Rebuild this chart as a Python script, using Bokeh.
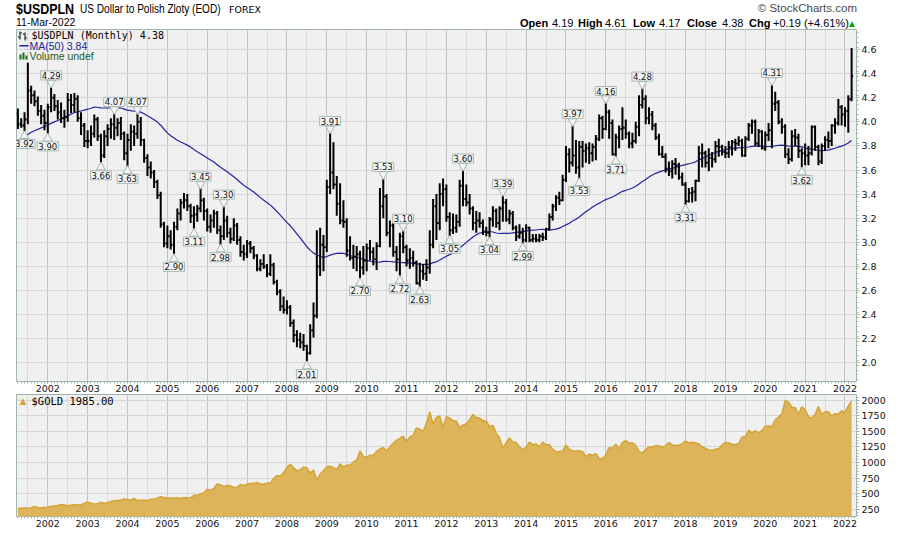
import numpy as np
import pandas as pd
from bokeh.plotting import figure
from bokeh.layouts import column
from bokeh.models import (Range1d, FixedTicker, NumeralTickFormatter, Label,
                          BoxAnnotation, ColumnDataSource, Div)
from bokeh.core.properties import value
from bokeh.embed import file_html
from bokeh.resources import INLINE

# ---------------------------------------------------------------- data
first_month = "2001-04"

usd_open = [
    4.07, 3.98, 3.97, 4.02, 4.26, 4.22, 4.17, 4.09, 4.05,                    # 2001 Apr-Dec
    3.99, 4.12, 4.20, 4.13, 4.08, 4.03, 4.04, 4.18, 4.14, 4.19, 4.03, 3.97,  # 2002
    3.84, 3.84, 3.90, 4.02, 3.88, 3.72, 3.88, 3.94, 3.98, 3.95, 3.99, 3.90,  # 2003
    3.74, 3.85, 3.92, 3.90, 4.00, 3.85, 3.70, 3.62, 3.58, 3.50, 3.39, 3.15,  # 2004
    2.99, 3.05, 2.98, 3.13, 3.24, 3.33, 3.35, 3.30, 3.22, 3.23, 3.28, 3.35,  # 2005
    3.26, 3.13, 3.18, 3.24, 3.10, 3.05, 3.18, 3.08, 3.03, 3.14, 3.02, 2.92,  # 2006
    2.90, 2.99, 2.95, 2.89, 2.78, 2.82, 2.80, 2.74, 2.81, 2.67, 2.59, 2.47,  # 2007
    2.44, 2.46, 2.33, 2.23, 2.19, 2.17, 2.14, 2.08, 2.27, 2.39, 2.80, 2.98,  # 2008
    2.96, 3.46, 3.58, 3.48, 3.32, 3.18, 3.17, 2.93, 2.87, 2.88, 2.90, 2.79,  # 2009
    2.85, 2.95, 2.92, 2.86, 2.97, 3.30, 3.38, 3.08, 3.14, 2.92, 2.86, 3.05,  # 2010
    2.96, 2.85, 2.87, 2.83, 2.66, 2.76, 2.74, 2.79, 2.98, 3.30, 3.16, 3.40,  # 2011
    3.44, 3.21, 3.10, 3.12, 3.17, 3.47, 3.36, 3.33, 3.28, 3.16, 3.18, 3.16,  # 2012
    3.09, 3.08, 3.19, 3.26, 3.16, 3.28, 3.33, 3.19, 3.24, 3.12, 3.05, 3.08,  # 2013
    3.02, 3.12, 3.02, 3.03, 3.02, 3.05, 3.04, 3.11, 3.21, 3.30, 3.37, 3.35,  # 2014
    3.52, 3.73, 3.66, 3.72, 3.62, 3.79, 3.76, 3.78, 3.74, 3.79, 3.86, 4.03,  # 2015
    3.94, 4.08, 3.99, 3.73, 3.87, 3.94, 3.95, 3.90, 3.82, 3.84, 3.96, 4.14,  # 2016
    4.19, 4.03, 4.06, 3.97, 3.87, 3.73, 3.71, 3.61, 3.59, 3.65, 3.64, 3.54,  # 2017
    3.48, 3.34, 3.41, 3.42, 3.51, 3.74, 3.74, 3.66, 3.70, 3.69, 3.80, 3.79,  # 2018
    3.75, 3.74, 3.79, 3.83, 3.82, 3.84, 3.72, 3.86, 3.97, 4.00, 3.82, 3.92,  # 2019
    3.78, 3.89, 3.93, 4.15, 4.16, 4.00, 3.96, 3.73, 3.69, 3.88, 3.87, 3.76,  # 2020
    3.74, 3.72, 3.74, 3.96, 3.79, 3.67, 3.80, 3.85, 3.84, 3.97, 3.99, 4.12,  # 2021
    4.06, 4.09, 4.1873,                                                      # 2022 Jan-Mar
]
usd_high = [
    4.11, 4.03, 4.08, 4.49, 4.30, 4.26, 4.21, 4.14, 4.10,
    4.15, 4.29, 4.23, 4.18, 4.16, 4.10, 4.24, 4.23, 4.24, 4.22, 4.08, 3.99,
    3.93, 3.97, 4.06, 4.04, 3.90, 3.93, 3.98, 4.03, 4.07, 4.03, 4.04, 3.92,
    3.90, 3.98, 3.97, 4.07, 4.04, 3.86, 3.73, 3.67, 3.60, 3.52, 3.42, 3.17,
    3.14, 3.10, 3.17, 3.28, 3.36, 3.41, 3.40, 3.32, 3.30, 3.31, 3.45, 3.37,
    3.28, 3.23, 3.27, 3.26, 3.14, 3.30, 3.22, 3.12, 3.20, 3.16, 3.05, 2.98,
    3.02, 3.01, 2.97, 2.90, 2.86, 2.90, 2.82, 2.90, 2.83, 2.69, 2.61, 2.55,
    2.52, 2.48, 2.36, 2.27, 2.25, 2.24, 2.15, 2.32, 2.50, 3.10, 3.12, 3.06,
    3.52, 3.91, 3.83, 3.55, 3.49, 3.35, 3.20, 3.05, 2.98, 2.97, 2.93, 2.97,
    2.99, 3.02, 2.96, 3.00, 3.45, 3.53, 3.40, 3.18, 3.16, 2.97, 3.08, 3.10,
    2.98, 2.95, 2.93, 2.85, 2.83, 2.82, 2.86, 3.10, 3.36, 3.40, 3.49, 3.53,
    3.48, 3.25, 3.24, 3.23, 3.52, 3.60, 3.48, 3.40, 3.30, 3.26, 3.25, 3.19,
    3.13, 3.21, 3.30, 3.28, 3.30, 3.39, 3.36, 3.27, 3.26, 3.14, 3.15, 3.12,
    3.15, 3.13, 3.07, 3.07, 3.07, 3.08, 3.12, 3.24, 3.32, 3.39, 3.42, 3.56,
    3.80, 3.78, 3.97, 3.85, 3.84, 3.84, 3.82, 3.83, 3.82, 3.89, 4.06, 4.05,
    4.16, 4.10, 4.02, 3.90, 3.97, 4.12, 4.02, 3.92, 3.91, 4.00, 4.22, 4.28,
    4.22, 4.12, 4.09, 3.99, 3.90, 3.80, 3.74, 3.67, 3.68, 3.70, 3.66, 3.58,
    3.50, 3.45, 3.46, 3.52, 3.80, 3.82, 3.76, 3.78, 3.75, 3.84, 3.86, 3.81,
    3.80, 3.84, 3.85, 3.86, 3.88, 3.86, 3.88, 3.99, 4.02, 4.02, 3.94, 3.93,
    3.92, 3.99, 4.31, 4.25, 4.18, 4.03, 3.98, 3.78, 3.93, 3.94, 3.90, 3.78,
    3.82, 3.80, 3.97, 3.97, 3.81, 3.82, 3.88, 3.92, 3.98, 4.03, 4.19, 4.14,
    4.12, 4.22, 4.6129,
]
usd_low = [
    3.94, 3.95, 3.92, 3.98, 4.15, 4.13, 4.05, 3.98, 3.93,
    3.90, 4.08, 4.09, 4.02, 3.99, 3.95, 4.00, 4.07, 4.08, 4.00, 3.89, 3.79,
    3.78, 3.80, 3.87, 3.84, 3.66, 3.70, 3.80, 3.86, 3.85, 3.88, 3.85, 3.68,
    3.63, 3.76, 3.80, 3.86, 3.80, 3.66, 3.55, 3.53, 3.45, 3.36, 3.12, 2.96,
    2.95, 2.94, 2.90, 3.10, 3.18, 3.28, 3.26, 3.16, 3.11, 3.17, 3.25, 3.18,
    3.09, 3.08, 3.12, 3.07, 2.98, 3.02, 3.04, 2.99, 3.01, 2.98, 2.88, 2.85,
    2.87, 2.91, 2.86, 2.76, 2.76, 2.78, 2.71, 2.72, 2.65, 2.56, 2.43, 2.41,
    2.40, 2.30, 2.17, 2.13, 2.12, 2.10, 2.01, 2.07, 2.21, 2.37, 2.72, 2.76,
    2.92, 3.40, 3.44, 3.22, 3.15, 3.12, 2.88, 2.85, 2.78, 2.76, 2.70, 2.73,
    2.76, 2.85, 2.81, 2.77, 2.96, 3.20, 3.05, 2.96, 2.88, 2.76, 2.72, 2.91,
    2.80, 2.78, 2.80, 2.65, 2.63, 2.69, 2.68, 2.74, 2.95, 3.02, 3.10, 3.30,
    3.17, 3.05, 3.07, 3.08, 3.13, 3.30, 3.30, 3.23, 3.10, 3.08, 3.12, 3.06,
    3.05, 3.04, 3.13, 3.12, 3.10, 3.17, 3.17, 3.15, 3.10, 3.01, 3.03, 2.99,
    3.00, 3.00, 3.00, 3.00, 3.00, 3.01, 3.02, 3.10, 3.18, 3.26, 3.31, 3.34,
    3.50, 3.58, 3.63, 3.57, 3.53, 3.62, 3.66, 3.65, 3.67, 3.68, 3.84, 3.86,
    3.93, 3.86, 3.72, 3.71, 3.78, 3.85, 3.86, 3.78, 3.78, 3.82, 3.88, 4.11,
    3.98, 3.98, 3.93, 3.85, 3.72, 3.70, 3.58, 3.55, 3.53, 3.56, 3.52, 3.47,
    3.31, 3.33, 3.33, 3.34, 3.50, 3.62, 3.62, 3.59, 3.62, 3.66, 3.71, 3.72,
    3.70, 3.70, 3.72, 3.76, 3.80, 3.71, 3.71, 3.84, 3.90, 3.80, 3.79, 3.77,
    3.76, 3.84, 3.78, 4.09, 3.98, 3.90, 3.70, 3.65, 3.67, 3.80, 3.70, 3.62,
    3.64, 3.64, 3.72, 3.76, 3.64, 3.65, 3.76, 3.78, 3.80, 3.90, 3.97, 3.97,
    3.96, 3.91, 4.17,
]
usd_close = [
    3.98, 3.97, 4.02, 4.26, 4.22, 4.17, 4.09, 4.05, 3.99,
    4.12, 4.20, 4.13, 4.08, 4.03, 4.04, 4.18, 4.14, 4.19, 4.03, 3.97, 3.84,
    3.84, 3.90, 4.02, 3.88, 3.72, 3.88, 3.94, 3.98, 3.95, 3.99, 3.90, 3.74,
    3.85, 3.92, 3.90, 4.00, 3.85, 3.70, 3.62, 3.58, 3.50, 3.39, 3.15, 2.99,
    3.05, 2.98, 3.13, 3.24, 3.33, 3.35, 3.30, 3.22, 3.23, 3.28, 3.35, 3.26,
    3.13, 3.18, 3.24, 3.10, 3.05, 3.18, 3.08, 3.03, 3.14, 3.02, 2.92, 2.90,
    2.99, 2.95, 2.89, 2.78, 2.82, 2.80, 2.74, 2.81, 2.67, 2.59, 2.47, 2.44,
    2.46, 2.33, 2.23, 2.19, 2.17, 2.14, 2.08, 2.27, 2.39, 2.80, 2.98, 2.96,
    3.46, 3.58, 3.48, 3.32, 3.18, 3.17, 2.93, 2.87, 2.88, 2.90, 2.79, 2.85,
    2.95, 2.92, 2.86, 2.97, 3.30, 3.38, 3.08, 3.14, 2.92, 2.86, 3.05, 2.96,
    2.85, 2.87, 2.83, 2.66, 2.76, 2.74, 2.79, 2.98, 3.30, 3.16, 3.40, 3.44,
    3.21, 3.10, 3.12, 3.17, 3.47, 3.36, 3.33, 3.28, 3.16, 3.18, 3.16, 3.09,
    3.08, 3.19, 3.26, 3.16, 3.28, 3.33, 3.19, 3.24, 3.12, 3.05, 3.08, 3.02,
    3.12, 3.02, 3.03, 3.02, 3.05, 3.04, 3.11, 3.21, 3.30, 3.37, 3.35, 3.52,
    3.73, 3.66, 3.72, 3.62, 3.79, 3.76, 3.78, 3.74, 3.79, 3.86, 4.03, 3.94,
    4.08, 3.99, 3.73, 3.87, 3.94, 3.95, 3.90, 3.82, 3.84, 3.96, 4.14, 4.19,
    4.03, 4.06, 3.97, 3.87, 3.73, 3.71, 3.61, 3.59, 3.65, 3.64, 3.54, 3.48,
    3.34, 3.41, 3.42, 3.51, 3.74, 3.74, 3.66, 3.70, 3.69, 3.80, 3.79, 3.75,
    3.74, 3.79, 3.83, 3.82, 3.84, 3.72, 3.86, 3.97, 4.00, 3.82, 3.92, 3.78,
    3.89, 3.93, 4.15, 4.16, 4.00, 3.96, 3.73, 3.69, 3.88, 3.87, 3.76, 3.74,
    3.72, 3.74, 3.96, 3.79, 3.67, 3.80, 3.85, 3.84, 3.97, 3.99, 4.12, 4.06,
    4.09, 4.1873, 4.3804,
]
# monthly closes Mar 1997 - Mar 2001, the run-in for the 50-month average
prior_close = [
    3.12, 3.20, 3.21, 3.28, 3.51, 3.52, 3.46, 3.41, 3.50, 3.52,
    3.51, 3.49, 3.43, 3.46, 3.45, 3.48, 3.46, 3.79, 3.57, 3.46, 3.49, 3.49,
    3.59, 3.90, 3.97, 3.96, 3.94, 3.96, 3.86, 3.96, 4.03, 4.18, 4.30, 4.15,
    4.14, 4.09, 4.11, 4.40, 4.44, 4.36, 4.37, 4.35, 4.45, 4.67, 4.55, 4.14,
    4.13, 4.13, 4.07,
]
gold_close = [
    264, 267, 271, 265, 273, 293, 279, 275, 279,
    282, 297, 302, 309, 326, 318, 304, 313, 324, 317, 319, 347,
    368, 347, 334, 336, 361, 346, 354, 375, 388, 386, 398, 416,
    400, 396, 424, 388, 393, 395, 391, 408, 416, 428, 452, 438,
    422, 435, 428, 435, 417, 437, 430, 433, 473, 470, 495, 513,
    568, 556, 583, 654, 643, 613, 633, 624, 599, 604, 646, 632,
    651, 665, 662, 680, 656, 650, 666, 673, 743, 789, 783, 834,
    923, 972, 916, 865, 886, 928, 913, 829, 880, 719, 815, 870,
    927, 942, 916, 884, 979, 926, 955, 955, 1007, 1040, 1182, 1096,
    1081, 1117, 1113, 1180, 1215, 1242, 1181, 1247, 1307, 1357, 1386, 1421,
    1332, 1410, 1439, 1556, 1536, 1500, 1628, 1813, 1620, 1722, 1746, 1563,
    1738, 1711, 1669, 1664, 1558, 1598, 1622, 1687, 1772, 1720, 1712, 1675,
    1663, 1578, 1595, 1472, 1393, 1234, 1313, 1395, 1327, 1323, 1253, 1202,
    1244, 1326, 1284, 1296, 1250, 1327, 1282, 1287, 1210, 1172, 1175, 1184,
    1283, 1213, 1183, 1184, 1190, 1172, 1095, 1135, 1115, 1142, 1065, 1061,
    1118, 1238, 1233, 1293, 1215, 1322, 1351, 1309, 1316, 1277, 1173, 1152,
    1211, 1249, 1249, 1268, 1269, 1242, 1270, 1322, 1280, 1271, 1275, 1303,
    1345, 1318, 1325, 1315, 1298, 1253, 1224, 1201, 1192, 1215, 1222, 1282,
    1321, 1313, 1292, 1284, 1305, 1409, 1413, 1520, 1472, 1513, 1464, 1517,
    1583, 1585, 1577, 1686, 1730, 1780, 1990, 1968, 1886, 1879, 1777, 1895,
    1848, 1734, 1708, 1769, 1903, 1770, 1814, 1814, 1743, 1784, 1774, 1829,
    1797, 1909, 1985,
]

# swing points carrying a value tag
high_marks = ["2002-02", "2003-09", "2004-04", "2005-11", "2006-06", "2009-02",
              "2010-06", "2010-12", "2012-06", "2013-06", "2015-03", "2016-01",
              "2016-12", "2020-03"]
low_marks = ["2001-06", "2002-01", "2003-05", "2004-01", "2005-03", "2005-09",
             "2006-05", "2008-07", "2009-11", "2010-11", "2011-05", "2012-02",
             "2013-02", "2013-12", "2015-05", "2016-04", "2018-01", "2020-12"]

year_ticks = list(range(2002, 2023))
usd_ticks = [2.0, 2.2, 2.4, 2.6, 2.8, 3.0, 3.2, 3.4, 3.6, 3.8, 4.0, 4.2, 4.4, 4.6]
gold_ticks = [250, 500, 750, 1000, 1250, 1500, 1750, 2000]
quote_date = "11-Mar-2022"

# ---------------------------------------------------------------- derived
months = pd.period_range(first_month, periods=len(usd_close), freq="M")
month_keys = [str(m) for m in months]
t = np.asarray(months.year + (months.month - 1) / 12.0, dtype=float)
o = np.array(usd_open); h = np.array(usd_high)
lo = np.array(usd_low); c = np.array(usd_close)
gold = np.array(gold_close, dtype=float)
ma50 = (pd.Series(prior_close + usd_close).rolling(50).mean()
        .to_numpy()[len(prior_close):])

# ---------------------------------------------------------------- styling
FRAME_BG = "#F0F0F0"
BORDER = "#9FB5AC"
TICK = "#9FB5AC"
YEAR_GRID = "#C2C2C2"
HALF_GRID = "#DADADA"
H_GRID = "#D6D6D6"
MA_COLOR = "#24249C"
GOLD_FILL = "#DDB459"
GOLD_LINE = "#D4A437"
TAG_FILL = "#F4F4F4"
TAG_LINE = "#A5BAB2"

X0, X1 = 2001.215, 2022.289
Y0, Y1 = 1.845, 4.766
HEAD = 29                   # header strip height (px)
FH1 = 352                   # main frame height (px)
FH2 = 122                   # gold frame height (px)
PPU = FH1 / (Y1 - Y0)       # pixels per zloty on the price scale

month_ticks = [y + m / 12.0 for y in range(2001, 2023) for m in range(12)
               if X0 <= y + m / 12.0 <= X1]
half_ticks = [y + 0.5 for y in range(2001, 2023)]


def style_x(ax):
    ax.ticker = FixedTicker(ticks=year_ticks, minor_ticks=month_ticks)
    ax.axis_line_color = None
    ax.major_tick_line_color = TICK
    ax.minor_tick_line_color = TICK
    ax.major_tick_in = 0
    ax.major_tick_out = 2
    ax.minor_tick_in = 0
    ax.minor_tick_out = 2
    ax.major_label_standoff = 1
    ax.major_label_text_font = "DejaVu Sans"
    ax.major_label_text_font_size = "9.5px"
    ax.major_label_text_color = "#111111"


def style_y(ax, ticks, minor, fmt):
    ax.ticker = FixedTicker(ticks=ticks, minor_ticks=minor)
    ax.formatter = NumeralTickFormatter(format=fmt)
    ax.axis_line_color = None
    ax.major_tick_line_color = TICK
    ax.minor_tick_line_color = TICK
    ax.major_tick_in = 0
    ax.major_tick_out = 3
    ax.minor_tick_in = 0
    ax.minor_tick_out = 2
    ax.major_label_standoff = 2
    ax.major_label_text_font = "DejaVu Sans"
    ax.major_label_text_font_size = "9.5px"
    ax.major_label_text_color = "#111111"


def style_grid(p, yticks):
    g = p.xgrid[0]
    g.ticker = FixedTicker(ticks=year_ticks, minor_ticks=half_ticks)
    g.grid_line_color = YEAR_GRID
    g.minor_grid_line_color = HALF_GRID
    yg = p.ygrid[0]
    yg.ticker = FixedTicker(ticks=yticks)
    yg.grid_line_color = H_GRID


def put(p, x, y, text, size, color="#000000", font="Liberation Sans",
        style="normal", align="left"):
    p.add_layout(Label(x=x, y=y, x_units="screen", y_units="screen", text=text,
                       text_font=font, text_font_size=size, text_font_style=style,
                       text_color=color, text_align=align, text_baseline="middle"))


def box(p, left, right, bottom, top, color):
    p.add_layout(BoxAnnotation(left=left, right=right, bottom=bottom, top=top,
                               left_units="screen", right_units="screen",
                               bottom_units="screen", top_units="screen",
                               fill_color=color, fill_alpha=1.0, line_color=None))


def sx(xp):            # page x -> frame x
    return xp - 16


def sy(yp):            # page y -> main frame y (measured up from frame bottom)
    return HEAD + FH1 - yp


# ---------------------------------------------------------------- header strip
chg = c[-1] - c[-2]
pct = chg / c[-2] * 100


def span(left, top, text, font, size, weight="normal", color="#000000",
         right=None, squeeze=None):
    pos = f"right:{right}px;" if right is not None else f"left:{left}px;"
    narrow = (f"display:inline-block;transform:scaleX({squeeze});"
              f"transform-origin:left top;") if squeeze else ""
    return (f'<span style="position:absolute;{pos}top:{top}px;font-family:\'{font}\';'
            f'font-size:{size}px;font-weight:{weight};color:{color};line-height:1;'
            f'white-space:nowrap;{narrow}">{text}</span>')


parts = [
    span(16, 1, "$USDPLN", "Liberation Sans", 15, "bold", squeeze=0.83),
    span(80, 3, "US Dollar to Polish Zloty (EOD)", "Liberation Sans", 12, squeeze=0.84),
    span(229, 5, "FOREX", "DejaVu Sans", 9.5),
    span(0, 3, "&copy; StockCharts.com", "Liberation Sans", 11.5, color="#4A4A4A", right=43),
    span(16, 17, quote_date, "Liberation Sans", 10.5),
]
hdr_items = [(520, "Open", "bold"), (552, f"{o[-1]:.2f}", "normal"),
             (578, "High", "bold"), (605, f"{h[-1]:.2f}", "normal"),
             (633, "Low", "bold"), (659, f"{lo[-1]:.2f}", "normal"),
             (687, "Close", "bold"), (722, f"{c[-1]:.2f}", "normal"),
             (749, "Chg", "bold"), (773, f"{chg:+.2f} ({pct:+.2f}%)", "normal")]
for xp, txt, wt in hdr_items:
    parts.append(span(xp, 17.5, txt, "Liberation Sans", 11, wt))
parts.append(span(849, 19.5, "&#9650;", "DejaVu Sans", 7.5, color="#00A000"))

header = Div(text='<div style="position:relative;width:900px;height:29px;">'
             + "".join(parts) + "</div>",
             width=900, height=HEAD, margin=(0, 0, 0, 0))

# ---------------------------------------------------------------- main panel
p1 = figure(frame_width=840, frame_height=FH1,
            x_range=Range1d(X0, X1), y_range=Range1d(Y0, Y1),
            y_axis_location="right", output_backend="svg",
            toolbar_location=None, min_border_left=16, min_border_right=44,
            min_border_top=0, min_border_bottom=0)
p1.background_fill_color = FRAME_BG
p1.border_fill_color = "white"
p1.outline_line_color = BORDER
style_x(p1.xaxis[0])
style_y(p1.yaxis[0], usd_ticks, list(np.round(np.arange(1.86, 4.77, 0.04), 2)), "0.0")
style_grid(p1, usd_ticks)

w = 0.45 / 12.0
p1.line(t, ma50, line_color=MA_COLOR, line_width=1.2)
p1.segment(x0=t, y0=lo, x1=t, y1=h, line_color="black", line_width=2)
p1.segment(x0=t - w, y0=o, x1=t, y1=o, line_color="black", line_width=2)
p1.segment(x0=t, y0=c, x1=t + w, y1=c, line_color="black", line_width=2)

# value tags: a small pointer plus a boxed value at each swing high / low
hi_i = [month_keys.index(m) for m in high_marks]
lo_i = [month_keys.index(m) for m in low_marks]
hi_src = ColumnDataSource(dict(x=t[hi_i], y=h[hi_i], yp=h[hi_i] + 4.0 / PPU,
                               text=[f"{v:.2f}" for v in h[hi_i]]))
lo_src = ColumnDataSource(dict(x=t[lo_i], y=lo[lo_i], yp=lo[lo_i] - 4.5 / PPU,
                               text=[f"{v:.2f}" for v in lo[lo_i]]))

p1.scatter(x="x", y="yp", source=hi_src, marker="inverted_triangle", size=9,
           fill_color=TAG_FILL, line_color=TAG_LINE, line_width=1)
p1.scatter(x="x", y="yp", source=lo_src, marker="triangle", size=9,
           fill_color=TAG_FILL, line_color=TAG_LINE, line_width=1)
tag_style = dict(text_font=value("DejaVu Sans"), text_font_size="8.5px",
                 text_color="#111111", text_align="center",
                 background_fill_color=TAG_FILL, border_line_color=TAG_LINE,
                 padding=1)
p1.text(x="x", y="y", text="text", source=hi_src, text_baseline="bottom",
        y_offset=-7, **tag_style)
p1.text(x="x", y="y", text="text", source=lo_src, text_baseline="top",
        y_offset=8, **tag_style)

# legend inside the price panel
box(p1, sx(19), sx(20), sy(39), sy(31), "black")
box(p1, sx(17.5), sx(19), sy(37), sy(36), "black")
box(p1, sx(20), sx(21.5), sy(33), sy(32), "black")
box(p1, sx(24), sx(25), sy(40), sy(32), "black")
box(p1, sx(22.5), sx(24), sy(34), sy(33), "black")
box(p1, sx(25), sx(26.5), sy(38), sy(37), "black")
put(p1, sx(31), sy(35), f"$USDPLN (Monthly) {c[-1]:.2f}", "10px", font="DejaVu Sans Mono")
box(p1, sx(19), sx(28), sy(46), sy(44.5), MA_COLOR)
put(p1, sx(29), sy(45.5), f"MA(50) {ma50[-1]:.2f}", "10.5px", color=MA_COLOR)
box(p1, sx(19), sx(21), sy(59), sy(54), "#1F6B1F")
box(p1, sx(22), sx(24), sy(59), sy(52), "#1F6B1F")
box(p1, sx(25), sx(27), sy(59), sy(55), "#1F6B1F")
put(p1, sx(29), sy(55.5), "Volume undef", "10.5px", color="#1F5F1F")

# ---------------------------------------------------------------- gold panel
p2 = figure(frame_width=840, frame_height=FH2,
            x_range=p1.x_range, y_range=Range1d(133, 2091),
            y_axis_location="right", output_backend="svg",
            toolbar_location=None, min_border_left=16, min_border_right=44,
            min_border_top=0, min_border_bottom=0)
p2.background_fill_color = FRAME_BG
p2.border_fill_color = "white"
p2.outline_line_color = BORDER
style_x(p2.xaxis[0])
style_y(p2.yaxis[0], gold_ticks, list(range(150, 2100, 50)), "0")
style_grid(p2, gold_ticks)

p2.varea(x=t, y1=0, y2=gold, fill_color=GOLD_FILL, fill_alpha=1.0)
p2.line(t, gold, line_color=GOLD_LINE, line_width=1.5)

put(p2, 3, FH2 - 6.5, "\u25B2", "9px", color=GOLD_LINE, font="DejaVu Sans")
put(p2, 15, FH2 - 6.5, f"$GOLD {gold[-1]:.2f}", "10.5px", font="DejaVu Sans Mono")

layout = column(header, p1, p2, spacing=0)
open("out.html", "w").write(file_html(layout, INLINE))
